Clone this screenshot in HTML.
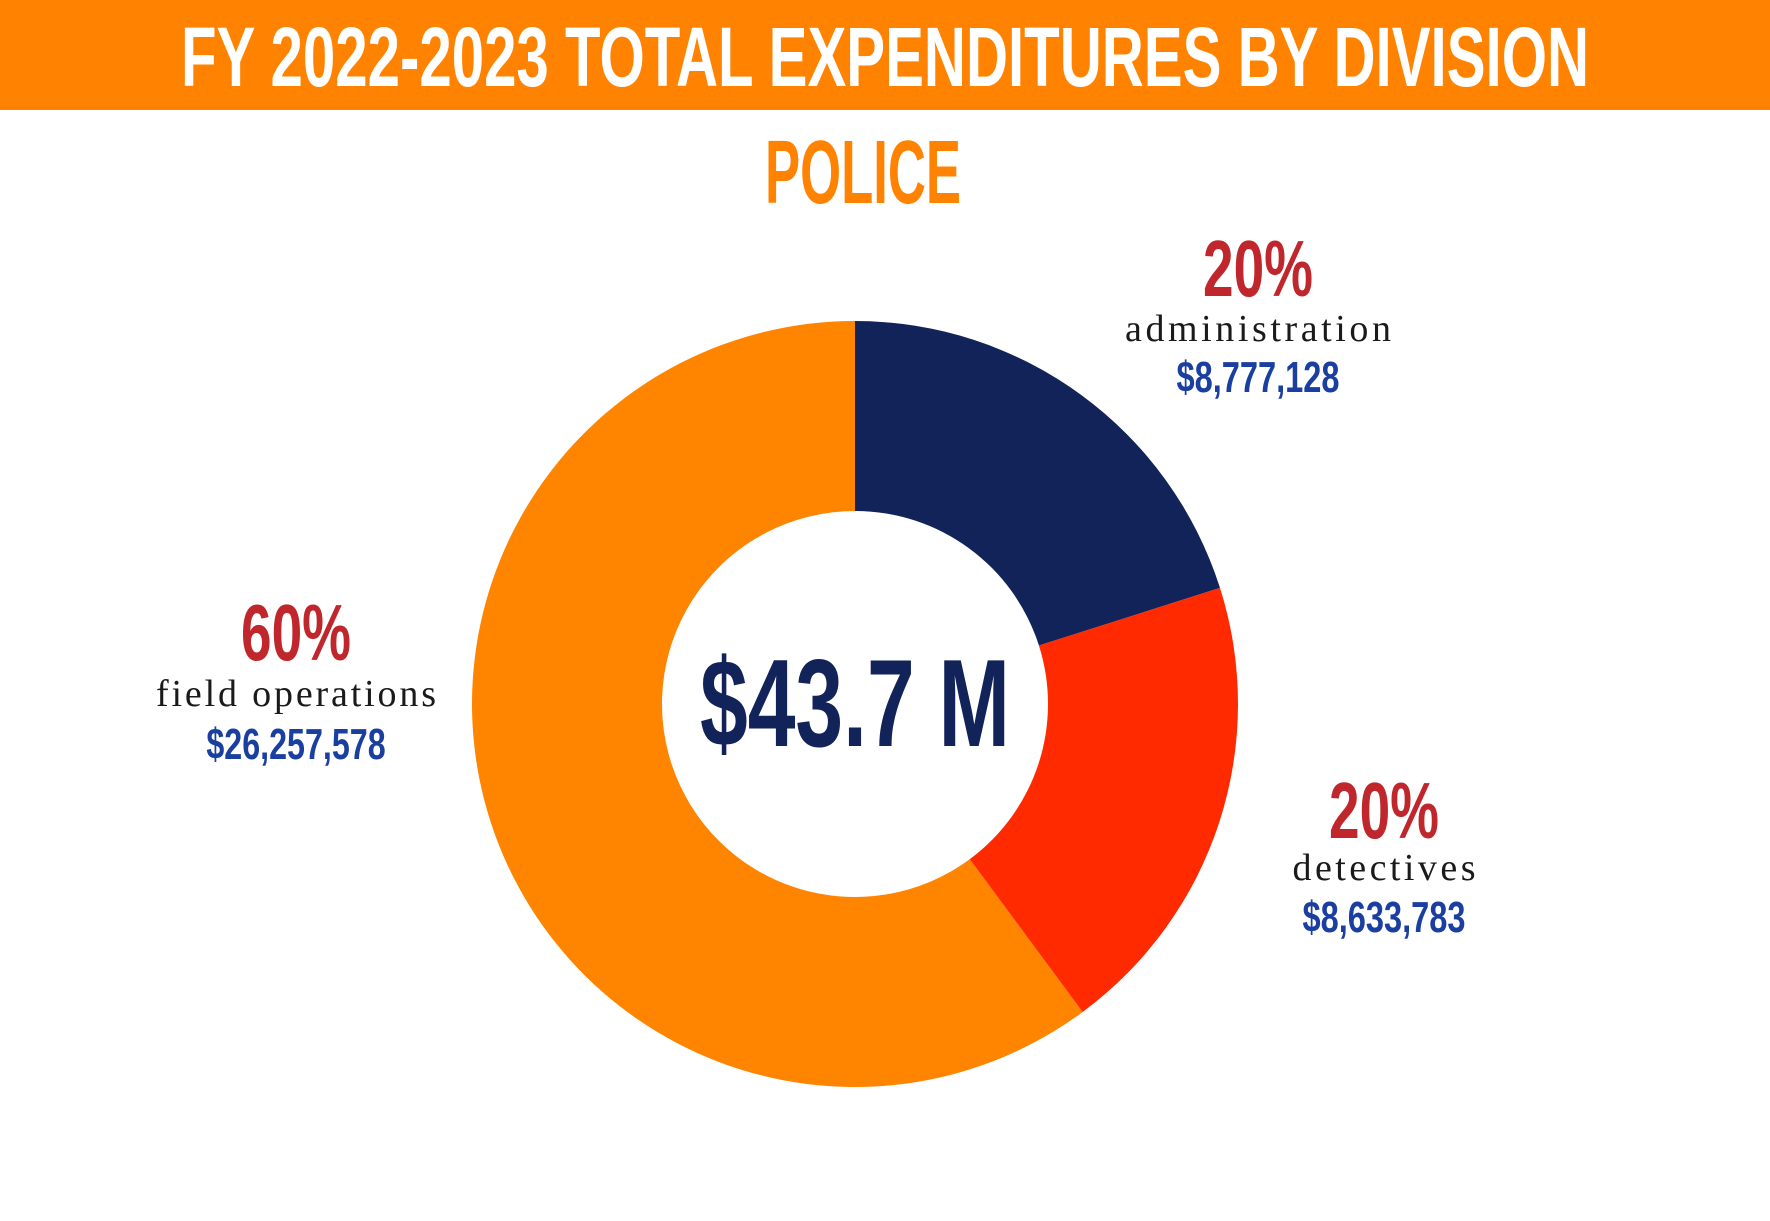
<!DOCTYPE html>
<html><head><meta charset="utf-8"><style>
html,body{margin:0;padding:0;background:#fff;}
svg{display:block;}
.cond{font-family:"Liberation Sans Narrow","Liberation Sans",sans-serif;font-weight:bold;}
.lbl{font-family:"Liberation Serif",serif;fill:#1a1a1a;}
</style></head><body>
<svg id="chart" width="1770" height="1221" viewBox="0 0 1770 1221">
<rect x="0" y="0" width="1770" height="110" fill="#ff8300"/>
<text class="cond" x="885" y="86" text-anchor="middle" font-size="84" fill="#fff" textLength="1408" lengthAdjust="spacingAndGlyphs">FY 2022-2023 TOTAL EXPENDITURES BY DIVISION</text>
<text class="cond" x="863" y="203" text-anchor="middle" font-size="90" fill="#ff8300" textLength="196" lengthAdjust="spacingAndGlyphs">POLICE</text>
<g id="slices"></g>
<text class="cond" x="855" y="746" text-anchor="middle" font-size="124" fill="#12235a" textLength="310" lengthAdjust="spacingAndGlyphs">$43.7 M</text>
<g id="labels"></g>
</svg>
<script>
const categories = ["administration", "detectives", "field operations"];
const values = [8777128, 8633783, 26257578];
const colors = ["#12235a", "#ff2a00", "#ff8400"];
const labelPos = [[1258, 296, 341, 392], [1384, 838, 880, 932], [296, 660, 706, 759]];
const nameWidths = [266, 183, 280];

const cx = 855, cy = 704, R = 383, r = 193;
const total = values.reduce((a, b) => a + b, 0);
const NS = "http://www.w3.org/2000/svg";
const slicesG = document.getElementById("slices");
const labelsG = document.getElementById("labels");
function pt(rad, a) { return [cx + rad * Math.sin(a), cy - rad * Math.cos(a)]; }
let start = 0;
values.forEach((v, i) => {
  const ang = v / total * Math.PI * 2;
  const end = start + ang;
  const large = ang > Math.PI ? 1 : 0;
  const [x1, y1] = pt(R, start), [x2, y2] = pt(R, end);
  const [x3, y3] = pt(r, end), [x4, y4] = pt(r, start);
  const p = document.createElementNS(NS, "path");
  p.setAttribute("d", `M${x1},${y1} A${R},${R} 0 ${large} 1 ${x2},${y2} L${x3},${y3} A${r},${r} 0 ${large} 0 ${x4},${y4} Z`);
  p.setAttribute("fill", colors[i]);
  
  
  slicesG.appendChild(p);
  start = end;

  const [lx, y1b, y2b, y3b] = labelPos[i];
  const pct = document.createElementNS(NS, "text");
  pct.setAttribute("class", "cond");
  pct.setAttribute("x", lx); pct.setAttribute("y", y1b);
  pct.setAttribute("text-anchor", "middle");
  pct.setAttribute("font-size", "80");
  pct.setAttribute("fill", "#c0272d");
  pct.setAttribute("textLength", "110");
  pct.setAttribute("lengthAdjust", "spacingAndGlyphs");
  pct.textContent = Math.round(v / total * 100) + "%";
  
  
  labelsG.appendChild(pct);

  const nm = document.createElementNS(NS, "text");
  nm.setAttribute("class", "lbl");
  nm.setAttribute("x", lx); nm.setAttribute("y", y2b);
  nm.setAttribute("text-anchor", "middle");
  nm.setAttribute("font-size", "38");
  nm.setAttribute("textLength", String(nameWidths[i]));
  nm.setAttribute("lengthAdjust", "spacing");
  nm.textContent = categories[i];
  
  
  labelsG.appendChild(nm);

  const amt = document.createElementNS(NS, "text");
  amt.setAttribute("class", "cond");
  amt.setAttribute("x", lx); amt.setAttribute("y", y3b);
  amt.setAttribute("text-anchor", "middle");
  amt.setAttribute("font-size", "44");
  amt.setAttribute("fill", "#1a3fa0");
  amt.textContent = "$" + v.toLocaleString("en-US");
  amt.setAttribute("textLength", String(amt.textContent.length * 16.3));
  amt.setAttribute("lengthAdjust", "spacingAndGlyphs");
  
  
  labelsG.appendChild(amt);
});
</script>
</body></html>
